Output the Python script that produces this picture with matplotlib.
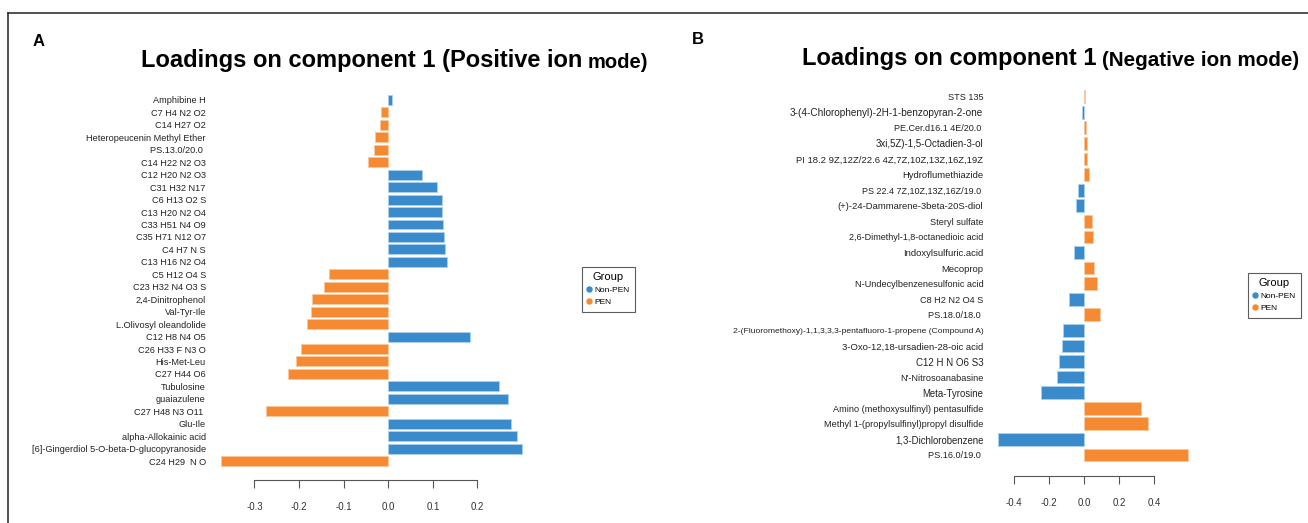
import matplotlib
matplotlib.use("Agg")
import matplotlib.pyplot as plt
from matplotlib.lines import Line2D

plt.rcParams['font.family'] = ['Liberation Sans', 'DejaVu Sans']

# positive ion mode loadings (top to bottom)
pos_names = [
    "Amphibine H", "C7 H4 N2 O2", "C14 H27 O2", "Heteropeucenin Methyl Ether",
    "PS.13.0/20.0 ", "C14 H22 N2 O3", "C12 H20 N2 O3", "C31 H32 N17",
    "C6 H13 O2 S", "C13 H20 N2 O4", "C33 H51 N4 O9", "C35 H71 N12 O7",
    "C4 H7 N S", "C13 H16 N2 O4", "C5 H12 O4 S", "C23 H32 N4 O3 S",
    "2,4-Dinitrophenol", "Val-Tyr-Ile", "L.Olivosyl oleandolide", "C12 H8 N4 O5",
    "C26 H33 F N3 O", "His-Met-Leu", "C27 H44 O6", "Tubulosine", "guaiazulene",
    "C27 H48 N3 O11 ", "Glu-Ile", "alpha-Allokainic acid",
    "[6]-Gingerdiol 5-O-beta-D-glucopyranoside", "C24 H29  N O",
]
pos_vals = [
    0.0075, -0.017, -0.018, -0.030, -0.032, -0.045, 0.075, 0.110,
    0.120, 0.120, 0.122, 0.126, 0.127, 0.131, -0.132, -0.144,
    -0.170, -0.174, -0.183, 0.184, -0.196, -0.208, -0.224, 0.248,
    0.269, -0.274, 0.275, 0.289, 0.299, -0.374,
]

# negative ion mode loadings (top to bottom)
neg_names = [
    "STS 135", "3-(4-Chlorophenyl)-2H-1-benzopyran-2-one", "PE.Cer.d16.1 4E/20.0 ",
    "3xi,5Z)-1,5-Octadien-3-ol", "PI 18.2 9Z,12Z/22.6 4Z,7Z,10Z,13Z,16Z,19Z",
    "Hydroflumethiazide", "PS 22.4 7Z,10Z,13Z,16Z/19.0 ",
    "(+)-24-Dammarene-3beta-20S-diol", "Steryl sulfate",
    "2,6-Dimethyl-1,8-octanedioic acid", "Indoxylsulfuric.acid", "Mecoprop",
    "N-Undecylbenzenesulfonic acid", "C8 H2 N2 O4 S", "PS.18.0/18.0 ",
    "2-(Fluoromethoxy)-1,1,3,3,3-pentafluoro-1-propene (Compound A)",
    "3-Oxo-12,18-ursadien-28-oic acid", "C12 H N O6 S3", "N'-Nitrosoanabasine",
    "Meta-Tyrosine", "Amino (methoxysulfinyl) pentasulfide",
    "Methyl 1-(propylsulfinyl)propyl disulfide", "1,3-Dichlorobenzene",
    "PS.16.0/19.0 ",
]
neg_vals = [
    0.005, -0.009, 0.011, 0.019, 0.019, 0.027, -0.036, -0.046,
    0.047, 0.051, -0.057, 0.059, 0.074, -0.084, 0.089, -0.120,
    -0.126, -0.145, -0.154, -0.245, 0.325, 0.363, -0.488, 0.593,
]
neg_sizes = [
    6.6, 7.2, 6.5, 7.0, 6.8, 6.8, 6.5, 6.8, 6.6, 6.5, 6.8, 6.8,
    6.6, 6.6, 6.6, 6.1, 6.8, 7.0, 6.6, 6.9, 6.6, 6.6, 6.9, 6.6,
]

groups = ["Non-PEN", "PEN"]
colors = {"Non-PEN": "#3a8bcb", "PEN": "#f68a33"}
edges = {"Non-PEN": "#a9cfec", "PEN": "#fbc79c"}

W, H = 1308, 523
fig = plt.figure(figsize=(W / 100, H / 100), dpi=100)


def fx(px):
    return px / W


def fy(py):
    return 1 - py / H


def panel(rect, names, vals, grp, xlim, ylim, ticks, bounds, ypad, xpad, height):
    ax = fig.add_axes(rect)
    cols = [colors[g] for g in grp]
    eds = [edges[g] for g in grp]
    ax.barh(range(len(vals)), vals, height=height, color=cols,
            edgecolor=eds, linewidth=0.7)
    ax.set_xlim(*xlim)
    ax.set_ylim(*ylim)
    ax.set_yticks(range(len(names)))
    ax.set_yticklabels(names, fontsize=6.6, color="#222222")
    ax.tick_params(axis="y", length=0, pad=ypad)
    ax.set_xticks(ticks)
    ax.set_xticklabels([f"{t:.1f}" for t in ticks], fontsize=7, color="#333333")
    ax.tick_params(axis="x", length=5.8, width=0.8, color="#555555", pad=xpad)
    for s in ["top", "right", "left"]:
        ax.spines[s].set_visible(False)
    ax.spines["bottom"].set_bounds(*bounds)
    ax.spines["bottom"].set_color("#555555")
    ax.spines["bottom"].set_linewidth(0.8)
    ax.patch.set_alpha(0)
    handles = [Line2D([], [], ls="", marker="o", markersize=3.6,
                      color=colors[g]) for g in groups]
    return ax, handles


# panel A
pos_grp = ["Non-PEN" if v > 0 else "PEN" for v in pos_vals]
axA, hA = panel([fx(209.9), fy(480), (531 - 209.9) / W, (480 - 90) / H],
                pos_names, pos_vals, pos_grp, (-0.40, 0.32), (30.52, -0.803),
                [-0.3, -0.2, -0.1, 0.0, 0.1, 0.2], (-0.3, 0.2), 2.9, 10.0, 0.8)

# panel B
neg_grp = ["PEN" if v > 0 else "Non-PEN" for v in neg_vals]
axB, hB = panel([fx(992.7), fy(476), (1192.8 - 992.7) / W, (476 - 86) / H],
                neg_names, neg_vals, neg_grp, (-0.52, 0.62), (24.35, -0.687),
                [-0.4, -0.2, 0.0, 0.2, 0.4], (-0.4, 0.4), 6.8, 10.4, 0.82)
for lab, s in zip(axB.get_yticklabels(), neg_sizes):
    lab.set_fontsize(s)

for ax, h, (lx, ly) in [(axA, hA, (582, 267)), (axB, hB, (1248, 273))]:
    leg = ax.legend(h, groups, title="Group", loc="upper left",
                    bbox_to_anchor=(fx(lx), fy(ly)), bbox_transform=fig.transFigure,
                    frameon=True, fancybox=False, fontsize=6.0, title_fontsize=8,
                    handlelength=0.35, handletextpad=0.45, borderpad=0.65,
                    labelspacing=0.5, borderaxespad=0)
    leg.get_frame().set_edgecolor("#333333")
    leg.get_frame().set_linewidth(0.8)

# panel letters and titles
fig.text(fx(33), fy(42), "A", fontsize=12, weight="bold", va="center")
fig.text(fx(692), fy(40), "B", fontsize=12, weight="bold", va="center")

tA = fig.text(fx(141), fy(60), "Loadings on component 1 (Positive ion",
              fontsize=17, weight="bold", va="center")
axA.annotate("mode)", xy=(1, 0), xycoords=tA, xytext=(4, 0),
             textcoords="offset points", va="bottom", ha="left",
             fontsize=14.5, weight="bold", annotation_clip=False)

tB = fig.text(fx(802), fy(59), "Loadings on component 1",
              fontsize=17, weight="bold", va="center")
axB.annotate("(Negative ion mode)", xy=(1, 0), xycoords=tB, xytext=(4, 0),
             textcoords="offset points", va="bottom", ha="left",
             fontsize=14.9, weight="bold", annotation_clip=False)

# outer frame along the top and left edges
fig.add_artist(Line2D([fx(8), fx(8)], [fy(13), 0], color="#222222", lw=1.1))
fig.add_artist(Line2D([fx(8), 1], [fy(13), fy(13)], color="#222222", lw=1.1))

fig.savefig("out.png", dpi=100)
